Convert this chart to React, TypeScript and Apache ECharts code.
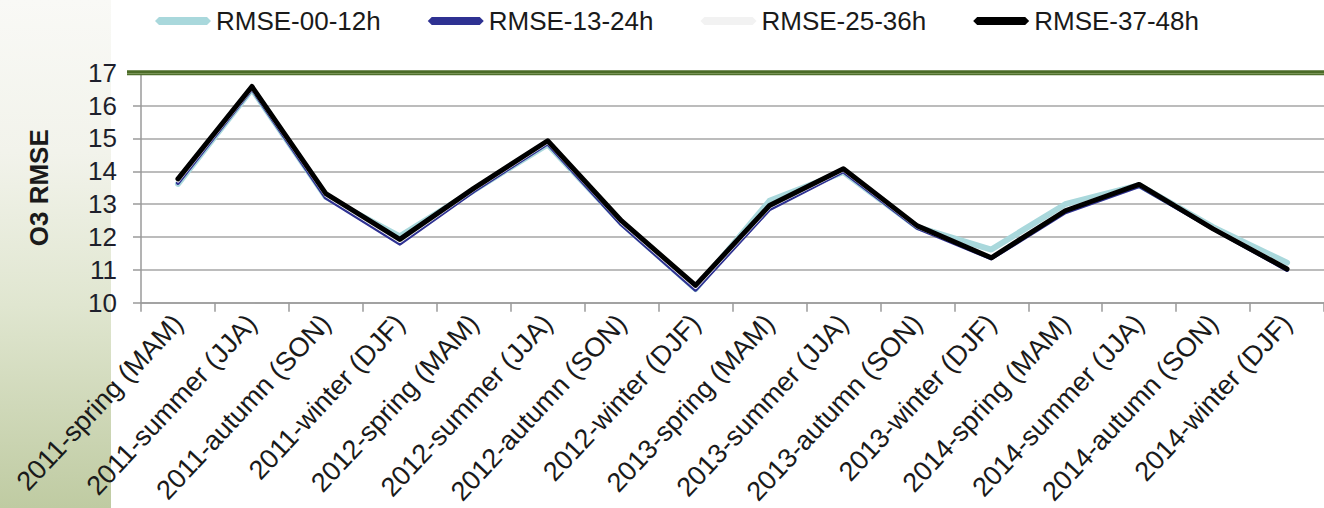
import React, { useEffect, useRef } from "react";
import * as echarts from "echarts";

// Seasonal O3 RMSE by forecast lead-time window
const categories = [
  "2011-spring (MAM)", "2011-summer (JJA)", "2011-autumn (SON)", "2011-winter (DJF)",
  "2012-spring (MAM)", "2012-summer (JJA)", "2012-autumn (SON)", "2012-winter (DJF)",
  "2013-spring (MAM)", "2013-summer (JJA)", "2013-autumn (SON)", "2013-winter (DJF)",
  "2014-spring (MAM)", "2014-summer (JJA)", "2014-autumn (SON)", "2014-winter (DJF)",
];

const seriesNames = ["RMSE-00-12h", "RMSE-13-24h", "RMSE-25-36h", "RMSE-37-48h"];

const rmse00to12 = [13.62, 16.5, 13.22, 12.02, 13.42, 14.82, 12.42, 10.42, 13.1, 13.98, 12.3, 11.62, 13.0, 13.58, 12.3, 11.22];
const rmse13to24 = [13.65, 16.52, 13.2, 11.8, 13.4, 14.85, 12.38, 10.4, 12.85, 14.0, 12.28, 11.35, 12.75, 13.55, 12.25, 11.0];
const rmse25to36 = [13.72, 16.55, 13.28, 11.88, 13.45, 14.9, 12.45, 10.48, 12.92, 14.05, 12.32, 11.4, 12.82, 13.6, 12.27, 11.05];
const rmse37to48 = [13.77, 16.58, 13.32, 11.93, 13.48, 14.93, 12.49, 10.53, 12.96, 14.08, 12.34, 11.37, 12.8, 13.6, 12.25, 11.03];

const yTicks = { min: 10, max: 17, interval: 1 };

const FONT = "'Liberation Sans', Arial, Helvetica, sans-serif";

export default function App() {
  const ref = useRef<HTMLDivElement>(null);

  useEffect(() => {
    if (!ref.current) return;
    const chart = echarts.init(ref.current, undefined, { renderer: "svg" });

    const lineSeries = (name: string, data: number[], color: string, width: number) => ({
      name,
      type: "line",
      data,
      color,
      symbol: "none",
      showSymbol: false,
      lineStyle: { color, width, join: "round", cap: "round" },
      emphasis: { disabled: true },
    });

    chart.setOption({
      animation: false,
      backgroundColor: "#ffffff",
      textStyle: { fontFamily: FONT },
      legend: {
        left: 155,
        top: 8,
        padding: 0,
        itemGap: 47,
        itemWidth: 56,
        itemHeight: 8,
        icon: "path://M0,4L4,0L52,0L56,4L52,8L4,8Z",
        itemStyle: { borderWidth: 0 },
        textStyle: { fontSize: 26, color: "#1a1a1a", fontFamily: FONT },
        data: seriesNames,
      },
      grid: { left: 141, top: 72.7, width: 1191.2, height: 231.3, containLabel: false },
      xAxis: {
        type: "category",
        data: categories,
        boundaryGap: true,
        axisLine: { lineStyle: { color: "#9a9a9a", width: 1.5 } },
        axisTick: { show: true, length: 9, alignWithLabel: false, lineStyle: { color: "#9a9a9a", width: 1.5 } },
        axisLabel: {
          interval: 0,
          rotate: 47,
          margin: 16,
          fontSize: 27,
          color: "#1a1a1a",
          fontFamily: FONT,
        },
        splitLine: { show: false },
      },
      yAxis: {
        type: "value",
        min: yTicks.min,
        max: yTicks.max,
        interval: yTicks.interval,
        name: "O3 RMSE",
        nameLocation: "middle",
        nameRotate: 90,
        nameGap: 89,
        nameTextStyle: { fontSize: 26, fontWeight: "bold", color: "#1a1a1a", fontFamily: FONT },
        axisLine: { show: true, lineStyle: { color: "#9a9a9a", width: 1.5 } },
        axisTick: { show: true, length: 8, lineStyle: { color: "#9a9a9a", width: 1.5 } },
        axisLabel: { margin: 24, fontSize: 26, color: "#1e1f2c", fontFamily: FONT },
        splitLine: { show: true, lineStyle: { color: "#a6a6a6", width: 1.5 } },
      },
      graphic: [
        {
          type: "rect",
          z: -10,
          silent: true,
          shape: { x: 0, y: 0, width: 111, height: 508 },
          style: {
            fill: new echarts.graphic.LinearGradient(0, 0, 0, 1, [
              { offset: 0, color: "#f9f9f6" },
              { offset: 0.3, color: "#f2f3eb" },
              { offset: 0.6, color: "#e0e6d0" },
              { offset: 1, color: "#bfcba2" },
            ]),
          },
        },
        {
          type: "rect",
          z: 100,
          silent: true,
          shape: { x: 127, y: 70.3, width: 1200, height: 5 },
          style: { fill: "#4b6b27" },
        },
        {
          type: "line",
          z: 101,
          silent: true,
          shape: { x1: 127, y1: 73.6, x2: 1327, y2: 73.6 },
          style: { stroke: "#7f9a5e", lineWidth: 1 },
        },
      ],
      series: [
        lineSeries(seriesNames[0], rmse00to12, "#a9d8dc", 6),
        lineSeries(seriesNames[1], rmse13to24, "#2e3192", 4),
        lineSeries(seriesNames[2], rmse25to36, "#f2f2f2", 4),
        lineSeries(seriesNames[3], rmse37to48, "#000000", 5),
      ],
    });

    return () => chart.dispose();
  }, []);

  return (
    <div
      ref={ref}
      style={{ position: "absolute", left: 0, top: 0, width: 1324, height: 508 }}
    />
  );
}
